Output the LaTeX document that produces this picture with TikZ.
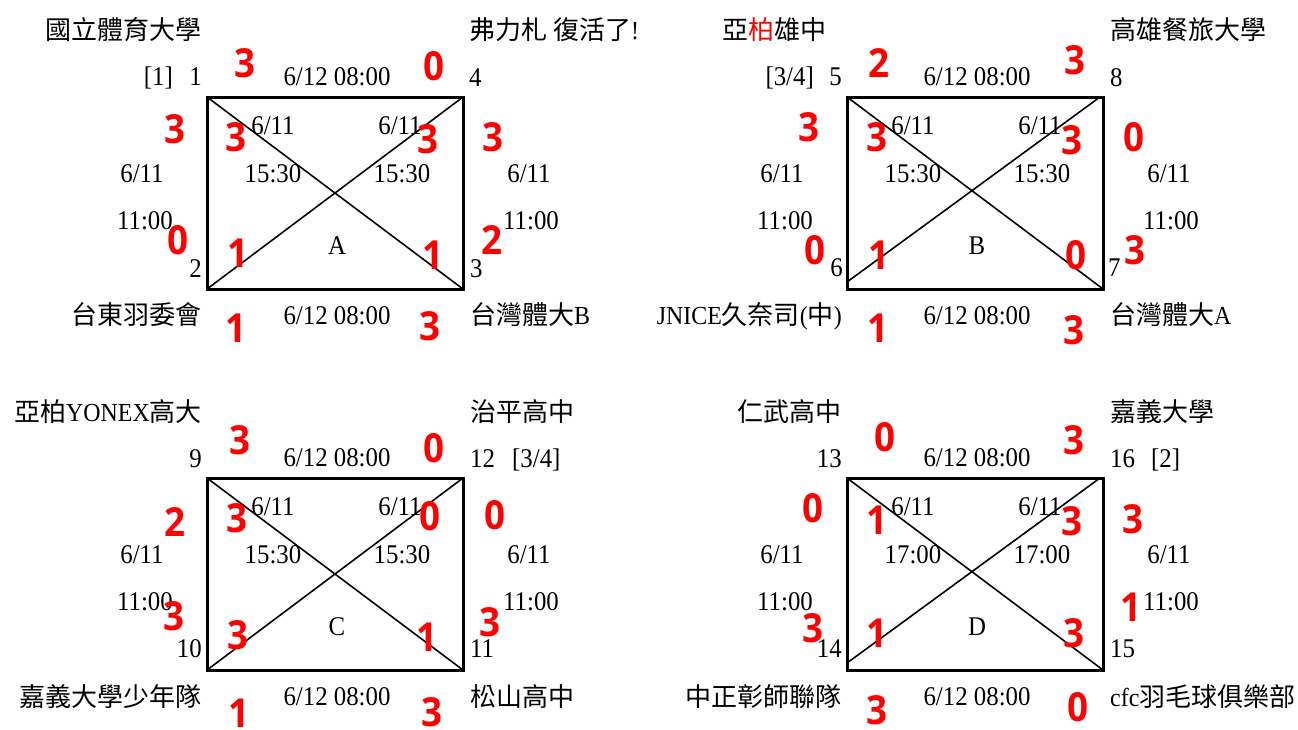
\documentclass[tikz,border=0pt]{standalone}
\usepackage{fontspec}
\setmainfont{Liberation Serif}
\newfontfamily\latf[FakeStretch=0.92]{Liberation Serif}
\newfontfamily\cjkf{Noto Sans CJK TC}
\newfontfamily\redf[FakeStretch=0.92]{Open Sans}
\tikzset{
 lat/.style={font=\latf\fontsize{27}{27}\selectfont, inner sep=0pt, text height=18.3pt, text depth=0pt},
 cjk/.style={font=\cjkf\fontsize{26}{26}\selectfont, inner sep=0pt, text height=22.9pt, text depth=3.1pt},
 sc/.style={font=\redf\bfseries\fontsize{40}{40}\selectfont, text=red, inner sep=0pt, text height=28.6pt, text depth=0pt},
 courtframe/.style={line width=3pt, line join=miter},
 diag/.style={line width=1.6pt}
}
\newcommand\drawcourt[7]{%
\begin{scope}[shift={(#2,#3)}]
\coordinate (tl#1) at (207,97);
\coordinate (tr#1) at (463,97);
\coordinate (bl#1) at (207,289);
\coordinate (br#1) at (463,289);
\coordinate (al#1) at #6;
\coordinate (ar#1) at #7;
\draw[diag] (tl#1) -- (br#1);
\draw[diag] (al#1) -- (ar#1);
\draw[courtframe] (tl#1) rectangle (br#1);
\node[lat] (dt#1) at (337,76) {6/12 08:00};
\node[lat] (db#1) at (337,315) {6/12 08:00};
\node[lat] (sla#1) at (142,173) {6/11};
\node[lat] (slb#1) at (145,220) {11:00};
\node[lat] (sra#1) at (529,173) {6/11};
\node[lat] (srb#1) at (531,220) {11:00};
\node[lat] (ila#1) at (273,125) {6/11};
\node[lat] (ilb#1) at (273,173) {#5};
\node[lat] (ira#1) at (400,125) {6/11};
\node[lat] (irb#1) at (402,173) {#5};
\node[lat] (lt#1) at (337,245) {#4};
\end{scope}}
\begin{document}
\begin{tikzpicture}[x=1pt,y=-1pt]
\useasboundingbox[fill=white] (0,0) rectangle (1298,729);
\drawcourt{A}{0}{0}{A}{15:30}{(207,289)}{(463,97)}
\drawcourt{B}{640}{0}{B}{15:30}{(207,282)}{(460,97)}
\drawcourt{C}{0}{381}{C}{15:30}{(207,289)}{(463,97)}
\drawcourt{D}{640}{381}{D}{17:00}{(207,282)}{(460,97)}
% team names
\node[cjk, anchor=east] (nA1) at (202,30) {國立體育大學};
\node[cjk, anchor=west] (nA4) at (469,30) {弗力札{\latf\ }復活了{\latf !}};
\node[cjk, anchor=east] (nA2) at (202,315) {台東羽委會};
\node[cjk, anchor=west] (nA3) at (470,315) {台灣體大{\latf B}};
\node[cjk, anchor=east] (nB5) at (827,30) {亞{\color{red}柏}雄中};
\node[cjk, anchor=west] (nB8) at (1110,30) {高雄餐旅大學};
\node[cjk, anchor=east] (nB6) at (842,315) {{\latf JNICE}久奈司{\latf (}中{\latf )}};
\node[cjk, anchor=west] (nB7) at (1110,315) {台灣體大{\latf A}};
\node[cjk, anchor=east] (nC9) at (202,412) {亞柏{\latf YONEX}高大};
\node[cjk, anchor=west] (nC12) at (470,412) {治平高中};
\node[cjk, anchor=east] (nC10) at (202,697) {嘉義大學少年隊};
\node[cjk, anchor=west] (nC11) at (470,697) {松山高中};
\node[cjk, anchor=east] (nD13) at (842,412) {仁武高中};
\node[cjk, anchor=west] (nD16) at (1110,412) {嘉義大學};
\node[cjk, anchor=east] (nD14) at (842,697) {中正彰師聯隊};
\node[cjk, anchor=west] (nD15) at (1110,697) {{\latf cfc}羽毛球俱樂部};
% corner numbers and seeds
\node[lat, anchor=east] (k1) at (202,76) {1};
\node[lat, anchor=east] (s1) at (173,76) {[1]};
\node[lat, anchor=west] (k4) at (469,77) {4};
\node[lat, anchor=east] (k2) at (202,268) {2};
\node[lat, anchor=west] (k3) at (470,268) {3};
\node[lat, anchor=east] (k5) at (842,76) {5};
\node[lat, anchor=east] (s5) at (814,76) {[3/4]};
\node[lat, anchor=west] (k8) at (1110,77) {8};
\node[lat, anchor=east] (k6) at (843,267) {6};
\node[lat, anchor=west] (k7) at (1108,267) {7};
\node[lat, anchor=east] (k9) at (202,458) {9};
\node[lat, anchor=west] (k12) at (470,458) {12};
\node[lat, anchor=west] (s12) at (512,458) {[3/4]};
\node[lat, anchor=east] (k10) at (202,648) {10};
\node[lat, anchor=west] (k11) at (470,648) {11};
\node[lat, anchor=east] (k13) at (842,458) {13};
\node[lat, anchor=west] (k16) at (1110,458) {16};
\node[lat, anchor=west] (s16) at (1151,458) {[2]};
\node[lat, anchor=east] (k14) at (842,648) {14};
\node[lat, anchor=west] (k15) at (1110,648) {15};
% scores A
\node[sc] (ra1) at (245,63) {3};
\node[sc] (ra2) at (434,66) {0};
\node[sc] (ra3) at (175,129) {3};
\node[sc] (ra4) at (236,137) {3};
\node[sc] (ra5) at (428,139) {3};
\node[sc] (ra6) at (493,137) {3};
\node[sc] (ra7) at (178,240) {0};
\node[sc] (ra8) at (238,253) {1};
\node[sc] (ra9) at (433,255) {1};
\node[sc] (ra10) at (492,240) {2};
\node[sc] (ra11) at (236,328) {1};
\node[sc] (ra12) at (430,326) {3};
% scores B
\node[sc] (rb1) at (879,63) {2};
\node[sc] (rb2) at (1075,60) {3};
\node[sc] (rb3) at (809,127) {3};
\node[sc] (rb4) at (877,137) {3};
\node[sc] (rb5) at (1072,140) {3};
\node[sc] (rb6) at (1134,137) {0};
\node[sc] (rb7) at (815,250) {0};
\node[sc] (rb8) at (879,255) {1};
\node[sc] (rb9) at (1076,255) {0};
\node[sc] (rb10) at (1135,250) {3};
\node[sc] (rb11) at (878,328) {1};
\node[sc] (rb12) at (1074,330) {3};
% scores C
\node[sc] (rc1) at (240,440) {3};
\node[sc] (rc2) at (434,448) {0};
\node[sc] (rc3) at (175,522) {2};
\node[sc] (rc4) at (237,518) {3};
\node[sc] (rc5) at (430,516) {0};
\node[sc] (rc6) at (495,515) {0};
\node[sc] (rc7) at (174,616) {3};
\node[sc] (rc8) at (238,635) {3};
\node[sc] (rc9) at (427,637) {1};
\node[sc] (rc10) at (490,622) {3};
\node[sc] (rc11) at (239,713) {1};
\node[sc] (rc12) at (432,712) {3};
% scores D
\node[sc] (rd1) at (885,437) {0};
\node[sc] (rd2) at (1074,440) {3};
\node[sc] (rd3) at (813,508) {0};
\node[sc] (rd4) at (877,520) {1};
\node[sc] (rd5) at (1072,521) {3};
\node[sc] (rd6) at (1133,519) {3};
\node[sc] (rd7) at (813,628) {3};
\node[sc] (rd8) at (877,633) {1};
\node[sc] (rd9) at (1074,633) {3};
\node[sc] (rd10) at (1131,607) {1};
\node[sc] (rd11) at (877,710) {3};
\node[sc] (rd12) at (1078,707) {0};
\end{tikzpicture}
\end{document}
